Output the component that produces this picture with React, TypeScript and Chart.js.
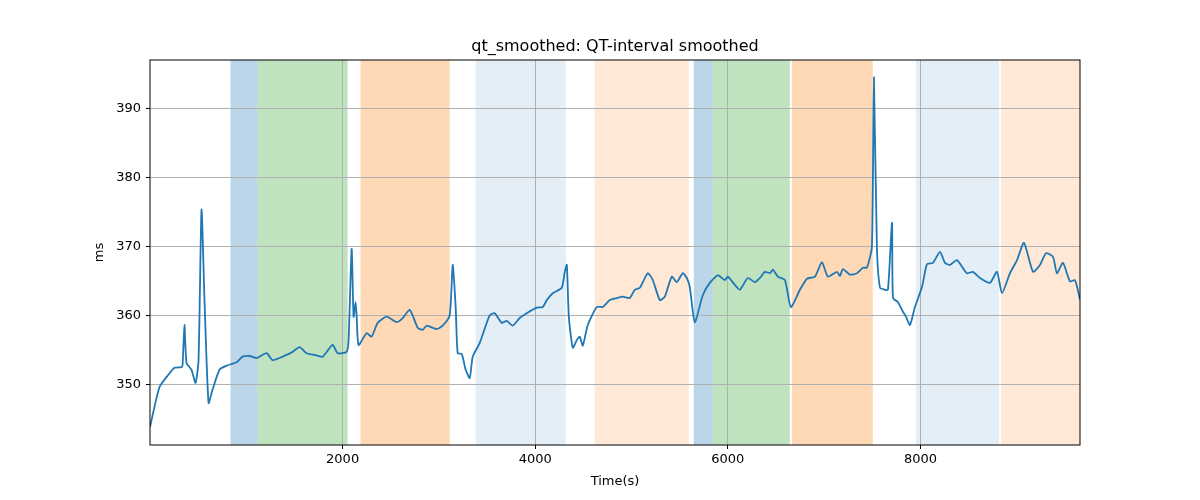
import React, { useEffect, useRef } from "react";
import { Chart, registerables } from "chart.js";
Chart.register(...registerables);

const times = [0,99,203,255,327,338,358,379,431,473,504,535,566,608,649,722,795,899,961,1034,1107,1211,1273,1377,1481,1554,1626,1730,1792,1896,1948,2042,2062,2094,2114,2135,2146,2166,2249,2301,2364,2457,2561,2624,2697,2780,2832,2873,2977,3039,3112,3143,3174,3195,3237,3278,3320,3351,3424,3527,3579,3652,3704,3766,3839,3912,4016,4078,4120,4182,4276,4307,4328,4349,4390,4432,4463,4494,4546,4639,4701,4774,4847,4909,4982,5034,5086,5169,5221,5294,5346,5418,5470,5533,5574,5605,5657,5740,5813,5896,5969,6000,6073,6125,6208,6281,6333,6385,6437,6468,6520,6593,6655,6749,6822,6905,6977,7040,7133,7164,7195,7268,7341,7403,7444,7496,7517,7548,7580,7632,7663,7705,7715,7767,7819,7850,7891,7943,8016,8068,8130,8203,8255,8307,8379,8483,8546,8618,8722,8795,8847,8930,9003,9075,9169,9241,9304,9376,9418,9480,9553,9605,9657];
const qtValues = [343.9,349.7,351.7,352.5,352.6,352.9,358.7,353.2,352.2,350.3,353.6,375.4,362.3,347.4,349.3,352.2,352.8,353.3,354.1,354.2,353.9,354.6,353.6,354.1,354.8,355.5,354.6,354.3,354.1,355.8,354.6,354.8,356.5,369.7,359.9,362.0,359.9,355.8,357.5,357.0,359.0,359.9,359.1,359.7,360.9,358.3,358.0,358.6,358.1,358.6,360.1,367.4,361.3,354.6,354.5,352.2,351.0,354.1,356.1,360.1,360.4,359.0,359.3,358.6,359.7,360.4,361.2,361.3,362.3,363.3,364.1,366.4,367.4,359.9,355.4,356.5,357.0,355.7,358.7,361.3,361.3,362.3,362.6,362.8,362.6,363.8,364.1,366.2,365.2,362.3,362.8,365.7,364.9,366.2,365.5,364.2,359.1,363.0,364.8,365.9,365.2,365.7,364.5,363.8,365.5,364.9,365.5,366.4,366.2,366.7,365.7,365.2,361.3,363.8,365.4,365.7,367.8,365.7,366.4,365.8,366.8,366.0,366.2,367.0,367.0,370.0,394.6,370.0,364.1,363.8,363.8,373.5,362.6,362.0,360.6,359.9,358.7,361.3,364.2,367.5,367.7,369.3,367.7,367.4,368.1,366.2,366.4,365.5,364.8,366.4,363.3,366.2,368.1,370.6,366.4,367.4,369.1,368.6,366.2,367.7,365.0,365.2,362.4];

const spanStarts = [836,1117,2187,3382,4618,5647,5844,6665,7953,8836];
const spanEnds = [1117,2052,3112,4317,5595,5844,6644,7506,8816,9657];
const spanColors = [
  "rgba(31,119,180,0.3)","rgba(44,160,44,0.3)","rgba(255,127,14,0.3)","rgba(31,119,180,0.12)","rgba(255,127,14,0.17)",
  "rgba(31,119,180,0.3)","rgba(44,160,44,0.3)","rgba(255,127,14,0.3)","rgba(31,119,180,0.12)","rgba(255,127,14,0.17)"];
const xTicks = [2000,4000,6000,8000];
const yTicks = [350,360,370,380,390];

const FONT = "'DejaVu Sans', sans-serif";

export default function App() {
  const ref = useRef<HTMLCanvasElement>(null);
  useEffect(() => {
    document.body.style.margin = "0";
    const spanPlugin = {
      id: "spans",
      beforeDraw(chart: any) {
        const { ctx, chartArea: a, scales } = chart;
        ctx.save();
        ctx.fillStyle = "white";
        ctx.fillRect(0, 0, chart.width, chart.height);
        for (let i = 0; i < spanStarts.length; i++) {
          const x0 = scales.x.getPixelForValue(spanStarts[i]);
          const x1 = scales.x.getPixelForValue(spanEnds[i]);
          ctx.fillStyle = spanColors[i];
          ctx.fillRect(x0, a.top, x1 - x0, a.bottom - a.top);
        }
        ctx.restore();
      },
      afterDraw(chart: any) {
        const { ctx, chartArea: a } = chart;
        ctx.save();
        ctx.strokeStyle = "black";
        ctx.lineWidth = 1;
        ctx.strokeRect(a.left, a.top, a.right - a.left, a.bottom - a.top);
        ctx.fillStyle = "black";
        ctx.font = `16px ${FONT}`;
        ctx.textAlign = "center";
        ctx.textBaseline = "bottom";
        ctx.fillText("qt_smoothed: QT-interval smoothed", (a.left + a.right) / 2, a.top - 5);
        ctx.restore();
      },
    };
    const chart = new Chart(ref.current!, {
      type: "line",
      data: {
        datasets: [{
          data: times.map((t, i) => ({ x: t, y: qtValues[i] })),
          borderColor: "#1f77b4",
          borderWidth: 1.8,
          pointRadius: 0,
          tension: 0.2,
        }],
      },
      options: {
        animation: false,
        responsive: false,
        layout: { padding: { top: 60, right: 120, left: 88, bottom: 7 } },
        plugins: { legend: { display: false }, title: { display: false }, tooltip: { enabled: false } },
        scales: {
          x: {
            type: "linear", min: 0, max: 9657,
            afterBuildTicks: (s: any) => { s.ticks = xTicks.map((v) => ({ value: v })); },
            afterFit: (s: any) => { s.height = 48; },
            grid: { color: "#b0b0b0", tickLength: 4, tickColor: "black" },
            border: { display: false },
            ticks: { color: "black", font: { family: FONT, size: 13 }, maxRotation: 0, padding: 3, callback: (v: any) => String(v) },
            title: { display: true, text: "Time(s)", color: "black", font: { family: FONT, size: 13 }, padding: { top: 2 } },
          },
          y: {
            type: "linear", min: 341.3, max: 397.1,
            afterBuildTicks: (s: any) => { s.ticks = yTicks.map((v) => ({ value: v })); },
            afterFit: (s: any) => { s.width = 62; },
            grid: { color: "#b0b0b0", tickLength: 4, tickColor: "black" },
            border: { display: false },
            ticks: { color: "black", font: { family: FONT, size: 13 }, padding: 5, callback: (v: any) => String(v) },
            title: { display: true, text: "ms", color: "black", font: { family: FONT, size: 13 }, padding: { bottom: 0 } },
          },
        },
      },
      plugins: [spanPlugin],
    } as any);
    return () => chart.destroy();
  }, []);
  return <canvas ref={ref} width={1200} height={500} style={{ display: "block" }} />;
}
